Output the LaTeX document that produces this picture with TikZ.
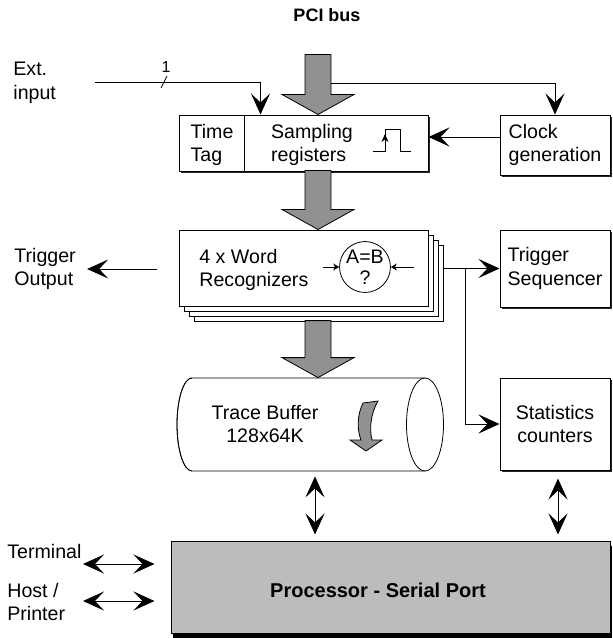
\documentclass[tikz,border=0pt]{standalone}
\usepackage{fontspec}
\setmainfont{Liberation Sans}
\usetikzlibrary{arrows.meta, positioning, calc, shadows}
\definecolor{busgray}{RGB}{145,145,145}
\definecolor{cpugray}{RGB}{188,188,188}

\begin{document}
\begin{tikzpicture}[
    x=0.5pt, y=-0.5pt,
    font=\fontsize{9.8}{11.8}\selectfont,
    >={Stealth[length=10.5pt, width=9.5pt, inset=4.5pt]},
    box/.style={rectangle, draw, line width=0.5pt, fill=white, align=left, inner sep=0pt},
    shadowed/.style={drop shadow={shadow xshift=1pt, shadow yshift=-1pt, fill=black, opacity=0.85}},
    txt/.style={align=left, inner sep=0pt},
    wire/.style={line width=0.4pt},
    smallarr/.style={-{Stealth[length=3pt, width=3.5pt, inset=1pt]}, line width=0.4pt},
    bus/.style={fill=busgray, draw, line width=0.4pt},
    pics/busarrow/.style={code={
        \filldraw[bus] (-13,-#1) -- (13,-#1) -- (13,-20) -- (36,-20) -- (0,0)
            -- (-36,-20) -- (-13,-20) -- cycle;}},
]
    \useasboundingbox (0,0) rectangle (613,638);

    % Input side
    \node[font=\fontsize{9}{11}\selectfont\bfseries] (pci) at (327,15) {PCI bus};
    \coordinate (bus) at (318,55);
    \node[txt, anchor=west] (ext) at (13,82.5) {Ext.\\input};
    \coordinate (extin) at (95,82);
    \coordinate (bustap) at (331,83);

    % Sampling stage
    \node[box, shadowed, minimum width=124.5pt, minimum height=28pt] (samp) at (303.5,143) {};
    \draw[wire] ([xshift=33pt]samp.north west) -- ([xshift=33pt]samp.south west);
    \node[txt] (tag) at (212,145) {Time\\Tag};
    \node[txt] (sreg) at (312,145) {Sampling\\registers};
    \draw[wire] (373,151) -- (385,151) -- (385,129) -- (400,129) -- (400,151) -- (411,151);
    \draw[wire, -{Stealth[length=4pt, width=3.5pt]}] (385,151) -- (385,134);
    \node[box, shadowed, minimum width=55pt, minimum height=30pt] (clock) at (555,145) {Clock\\generation};

    \pic at (bus |- samp.north) {busarrow=60};
    \draw[wire, ->] (extin) -| ($(samp.north west)+(82,0)$);
    \draw[wire] (161,88) -- (167,76);
    \node[font=\fontsize{8}{9}\selectfont] (width) at (166,67) {1};
    \draw[wire, ->] (bustap) -| (clock.north);
    \draw[wire, ->] ([yshift=4pt]clock.west) -- ([yshift=4pt]clock.west -| samp.east);

    % Word recognizers
    \foreach \d in {15,10,5}
        \draw[wire, fill=white] (179+\d,230+\d) rectangle (428+\d,306+\d);
    \node[box, minimum width=124.5pt, minimum height=38pt] (wr) at (303.5,268) {};
    \node[txt, anchor=west] (wrtxt) at (199,270) {4 x Word\\Recognizers};
    \node[circle, draw, line width=0.4pt, minimum size=24pt, inner sep=0pt, align=center,
          font=\fontsize{9.8}{10.5}\selectfont] (eq) at (365,267) {A=B\\?};
    \draw[smallarr] ([xshift=-8pt]eq.west) -- (eq.west);
    \draw[smallarr] ([xshift=11.5pt]eq.east) -- (eq.east);
    \pic at (bus |- wr.north) {busarrow=59};

    \node[txt, anchor=west] (tout) at (14,269) {Trigger\\Output};
    \coordinate (wrtap) at (157,269);
    \draw[wire, ->] (wrtap) -- ([xshift=5.5pt]tout.east |- wrtap);

    \node[box, shadowed, minimum width=55pt, minimum height=38.5pt] (trig) at (555,268.5) {Trigger\\Sequencer};
    \node[box, shadowed, minimum width=55pt, minimum height=46pt, align=center] (stats) at (555,424) {Statistics\\counters};
    \coordinate (split) at ([xshift=-17pt]trig.west);
    \draw[wire, ->] (443,268.5) -- (trig.west);
    \draw[wire, ->] (split) |- (stats.west);

    % Trace buffer
    \node[minimum width=133.5pt, minimum height=46.5pt, inner sep=0pt] (trace) at (310.5,424.5) {};
    \filldraw[wire, fill=white] (192,378) -- (425,378) -- (425,471) -- (192,471)
        arc[start angle=270, end angle=90, x radius=7.5pt, y radius=23.25pt];
    \draw[wire] (192,378) arc[start angle=90, end angle=270, x radius=7.5pt, y radius=23.25pt];
    \draw[wire, fill=white] (425,424.5) ellipse [x radius=9.25pt, y radius=23.25pt];
    \node[align=center, inner sep=0pt] (tracetxt) at (265,424) {Trace Buffer\\128x64K};
    \filldraw[bus] (363,403) .. controls (357,415) and (357,430) .. (361,440) -- (350,440)
        -- (366,451) -- (382,440) -- (372,440) .. controls (369,428) and (371,413) .. (378,401) -- cycle;
    \pic at (bus |- trace.north) {busarrow=57};

    % Processor
    \node[box, fill=cpugray, minimum width=219.5pt, minimum height=46pt,
          drop shadow={shadow xshift=1.2pt, shadow yshift=-2.5pt, fill=black, opacity=1}] (cpu) at (390.5,587) {};
    \node[font=\fontsize{10}{12}\selectfont\bfseries] (cputxt) at (378,590) {Processor - Serial Port};
    \draw[wire, <->] ([xshift=2.25pt, yshift=-2.5pt]trace.south) -- ([xshift=2.25pt, yshift=3pt]trace.south |- cpu.north);
    \draw[wire, <->] ([xshift=1.5pt, yshift=-4pt]stats.south) -- ([xshift=1.5pt, yshift=3pt]stats.south |- cpu.north);

    \node[txt, anchor=west] (term) at (7,551) {Terminal};
    \node[txt, anchor=west] (host) at (7,602) {Host /\\Printer};
    \draw[wire, <->] (83,564) -- ([xshift=-8pt]cpu.west |- 0,564);
    \draw[wire, <->] (83,601) -- ([xshift=-8pt]cpu.west |- 0,601);
\end{tikzpicture}
\end{document}
